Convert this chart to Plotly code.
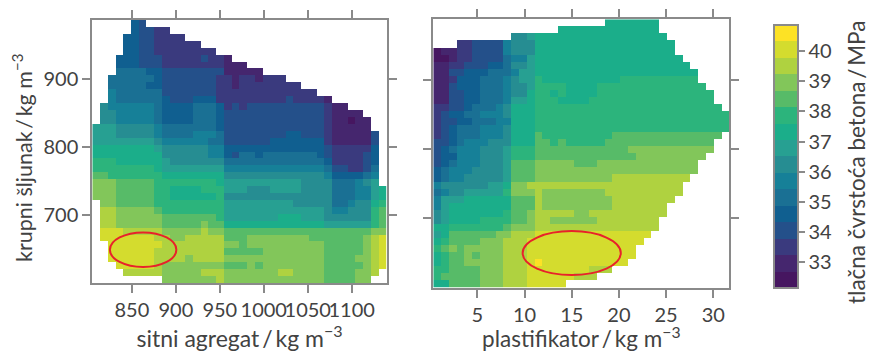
import plotly.graph_objects as go

# Band edges of the colour scale (MPa) and their colours, bottom to top
z_low, z_high = 32.14, 40.87
band_colors = ["#461660", "#45266e", "#3a3a7e", "#24508a", "#105f90", "#1a7094", "#168098", "#268d92",
               "#27a092", "#1bae8a", "#2cb47c", "#57bb68", "#82c65a", "#afd240", "#d4dc2e", "#fde225"]

# Cell bands: token = band (hex, '.' empty) + run length, top row first
left_rows = """.5 41 31
.5 41 32 22
.4 42 32 24
.4 42 32 26
.4 42 32 28
.3 43 33 25 31 22 11
.3 43 33 28 13
.3 54 42 38 15
.2 56 41 37 22 11 22 11 23
.2 55 42 37 22 11 28
.2 61 56 37 213
.2 61 56 41 33 43 29 31 24 11
.1 71 66 51 44 53 41 21 31 21 310 21 12
.1 72 65 51 44 53 41 313 21 14
.1 72 65 51 44 53 41 313 21 12 01 12
83 75 61 54 53 41 313 21 15
83 75 61 54 63 51 38 42 33 21 15 31
88 71 66 52 36 47 21 15 31
98 81 76 62 413 31 25 41
99 76 62 41 31 52 41 57 41 31 24 31 41
a3 96 81 77 513 41 24 31 41
a8 91 88 613 51 32 22 31 51
b2 a7 98 713 61 44 51 61
c3 b5 a8 91 810 74 53 61 71 81
c3 b5 a2 94 a3 83 73 84 74 53 62 81 91
c3 b5 a2 96 a1 79 75 53 62 81 91
.1 c2 b5 a9 89 75 52 61 72 91 a1
.1 d2 c5 b1 a8 813 71 62 73 a1 b1
.1 d2 c6 b7 a1 87 93 83 76 a1 b1
.1 d2 c6 b5 c1 b2 913 86 a1 b1
.1 e3 d5 c5 d1 c2 b13 b6 c2
.1 e7 d2 c2 d5 b3 c8 b7 c1 d1 e1
.2 e7 d8 c2 b1 c10 b5 c1 d1 e1
.2 e6 d9 b5 c8 b5 c1 d1 e1
.2 e6 d4 c1 d4 c13 b4 c2 d1 e1
.3 e5 d1 c8 b3 c1 b1 c8 b5 c1 d1 e1
.4 d5 c5 d3 c7 d2 c4 b4 c2 d1
.9 c7 d1 c13 b4 c2"""

right_rows = """.22 97
.16 913
.10 72 81 917
.3 22 34 61 73 918
01 12 22 34 61 73 918
02 11 22 34 51 62 81 919
12 22 33 42 51 72 81 920
12 32 43 53 61 82 921
12 21 43 53 61 71 82 a1 910 a10
12 31 43 53 61 72 81 a4 94 a14
12 32 42 53 61 72 91 a2 91 a1 94 a15
12 32 42 53 61 82 91 a3 94 a16
22 32 41 53 61 71 93 a24
21 31 42 52 63 71 93 a25
21 32 42 53 62 93 a25
21 31 41 53 63 71 93 a25
21 31 41 53 63 71 93 b1 a9 b14
32 41 51 63 73 93 b2 a1 b1 a5 b14
31 41 51 63 73 81 a3 b12 c11
31 42 63 73 81 a3 b13 c9
31 41 51 63 73 81 b3 c5 b3 c13
41 51 63 74 81 b3 c21
41 51 62 75 81 b3 c10 d10
61 76 82 91 c2 d20
51 61 72 85 a1 c3 d1 c8 d10
61 83 96 b3 d1 c9 d8
61 81 98 b3 d1 c9 d7
71 81 97 a1 b2 c1 d5 c2 d10
71 81 94 a4 b2 c1 d2 c6 d8
92 a7 b1 c3 d16
81 91 b6 c2 d3 e15
91 a1 b4 c3 d3 e15
a1 b1 c1 b1 c5 d3 e14
91 a1 b2 c1 b1 c3 d3 e14
91 a1 b2 c5 d3 e1 f1 e11
a2 b4 c3 d3 e8 d3
a1 b5 c3 d3 e6 d3
92 b4 c3 d3 e5"""

x_left_ticks = [850, 900, 950, 1000, 1050, 1100]
x_right_ticks = [5, 10, 15, 20, 25, 30]
y_ticks = [700, 800, 900]
color_ticks = [33, 34, 35, 36, 37, 38, 39, 40]

# Red ellipses in data units: centre x, centre y, half width, half height
left_ellipse = (862.8, 649.4, 37.8, 25.5)
right_ellipse = (15.0, 650.0, 5.2, 31.7)

W, H, N = 869, 352, 38
step = (z_high - z_low) / len(band_colors)


def decode(text):
    grid = []
    for line in text.splitlines()[::-1]:
        row = []
        for tok in line.split():
            lvl = None if tok[0] == "." else z_low + (int(tok[0], 16) + 0.5) * step
            row += [lvl] * int(tok[1:])
        grid.append(row + [None] * (N - len(row)))
    return grid


scale = []
for i, c in enumerate(band_colors):
    scale += [[i / len(band_colors), c], [(i + 1) / len(band_colors), c]]

TEXT = "#424242"
FRAME = "#8a8a8a"
FONT = "Lato"
THIN = "\u2009"


def dom_x(a, b):
    return [a / W, b / W]


def dom_y(top, bottom):
    return [1 - bottom / H, 1 - top / H]


def axis(**kw):
    return dict(showgrid=False, zeroline=False, showline=True, linecolor=FRAME, linewidth=2, mirror="allticks",
                ticks="outside", ticklen=8, tickwidth=1.5, tickcolor=FRAME, tickfont=dict(size=20, color=TEXT),
                tickangle=0, automargin=False, **kw)


def side_title(text, px, py, size):
    return dict(text=text, xref="paper", yref="paper", x=px / W, y=1 - py / H, xanchor="center", yanchor="middle",
                textangle=-90, showarrow=False, font=dict(size=size, color=TEXT))


x0L, x1L, x0R, x1R, y0, y1 = 805.0, 1139.8, 0.33, 31.7, 600.0, 987.5

fig = go.Figure()
common = dict(coloraxis="coloraxis", zsmooth=False, hoverongaps=False)
fig.add_trace(go.Heatmap(z=decode(left_rows), x0=x0L + (x1L - x0L) / N / 2, dx=(x1L - x0L) / N,
                         y0=y0 + (y1 - y0) / N / 2, dy=(y1 - y0) / N, xaxis="x", yaxis="y", **common))
fig.add_trace(go.Heatmap(z=decode(right_rows), x0=x0R + (x1R - x0R) / N / 2, dx=(x1R - x0R) / N,
                         y0=y0 + (y1 - y0) / N / 2, dy=(y1 - y0) / N, xaxis="x2", yaxis="y2", **common))


def ellipse(e, xref, yref):
    return dict(type="circle", xref=xref, yref=yref, x0=e[0] - e[2], x1=e[0] + e[2], y0=e[1] - e[3], y1=e[1] + e[3],
                line=dict(color="#e8222a", width=2))


fig.update_layout(
    width=W, height=H, margin=dict(l=0, r=0, t=0, b=0), paper_bgcolor="white", plot_bgcolor="white",
    font=dict(family=FONT, color=TEXT),
    xaxis=axis(domain=dom_x(92.3, 386.7), range=[x0L, x1L], tickvals=x_left_ticks,
               title=dict(text=f"sitni agregat{THIN}/{THIN}kg m<sup>−3</sup>", standoff=11,
                          font=dict(size=23, color=TEXT)), anchor="y"),
    yaxis=axis(domain=dom_y(20, 283.3), range=[y0, y1], tickvals=y_ticks, anchor="x"),
    xaxis2=axis(domain=dom_x(433.3, 729.3), range=[x0R, x1R], tickvals=x_right_ticks,
                title=dict(text=f"plastifikator{THIN}/{THIN}kg m<sup>−3</sup>", standoff=11,
                           font=dict(size=22.5, color=TEXT)), anchor="y2"),
    yaxis2=axis(domain=dom_y(19.3, 287.7), range=[y0, y1], tickvals=y_ticks, showticklabels=False, anchor="x2"),
    coloraxis=dict(cmin=z_low, cmax=z_high, colorscale=scale,
                   colorbar=dict(x=774 / W, xanchor="left", xpad=0, ypad=0, thickness=24, thicknessmode="pixels",
                                 len=263, lenmode="pixels", y=1 - 25 / H, yanchor="top",
                                 outlinecolor=FRAME, outlinewidth=2, tickvals=color_ticks, ticks="outside",
                                 ticklen=6, tickwidth=1.5, tickcolor=FRAME, tickfont=dict(size=20, color=TEXT))),
    shapes=[ellipse(left_ellipse, "x", "y"), ellipse(right_ellipse, "x2", "y2")],
    annotations=[side_title(f"krupni šljunak{THIN}/{THIN}kg m<sup>−3</sup>", 22, 158, 21.5),
                 side_title(f"tlačna čvrstoća betona{THIN}/{THIN}MPa", 856, 163, 22.5)],
)

fig.write_html("out.html", post_script="document.body.style.margin='0';", config={"displayModeBar": False})
